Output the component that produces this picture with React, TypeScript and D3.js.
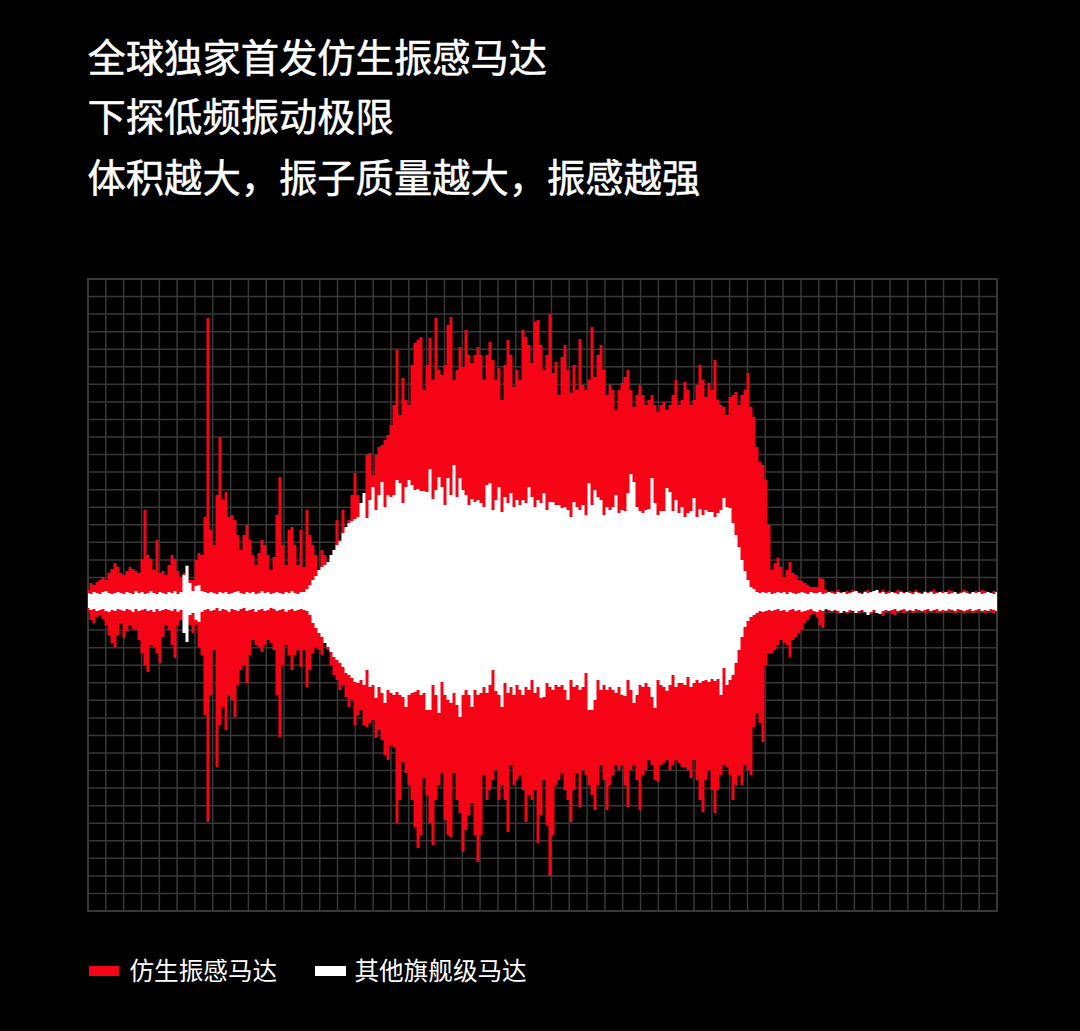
import React from 'react';
import * as d3 from 'd3';

const titleLines = ['全球独家首发仿生振感马达', '下探低频振动极限', '体积越大，振子质量越大，振感越强'];
const legendNames = ['仿生振感马达', '其他旗舰级马达'];

// amplitude, one sample every 3px along the time axis
const redUpper = [
  5,12,10,13,15,18,15,22,26,32,28,22,20,24,28,26,24,22,36,85,
  40,36,25,55,22,24,20,30,40,36,24,18,22,30,15,15,35,42,40,78,
  277,65,50,100,158,95,103,78,80,75,60,45,60,70,55,40,30,42,55,50,
  40,25,38,80,118,50,30,65,68,50,30,65,28,85,60,50,40,25,45,40,
  30,35,45,75,55,85,65,75,100,122,100,92,90,140,142,120,140,148,150,155,
  160,170,190,245,180,217,195,190,230,252,255,258,205,230,257,215,277,225,220,230,
  270,278,215,225,248,228,265,240,232,240,248,240,215,240,253,235,215,227,195,230,
  255,240,208,225,215,265,258,250,232,273,275,250,225,240,281,222,233,200,238,250,
  225,202,230,205,256,210,205,215,268,218,240,250,225,200,210,205,185,205,212,218,
  225,205,188,200,210,200,190,195,200,190,183,190,193,185,190,200,215,190,195,213,
  205,190,195,210,230,215,198,212,205,235,195,190,188,180,198,200,203,190,200,205,
  222,188,178,148,133,130,115,70,25,32,37,28,18,25,33,22,20,15,14,12,
  10,8,8,8,17,16,5,3,4,3,5,3,2,4,3,5,4,3,2,4,
  5,3,2,4,3,5,3,4,2,3,5,4,3,2,4,3,5,3,2,4,
  3,4,5,3,2,4,3,5,4,3,2,3,5,4,2,3,4,3,5,4,
  3,2,4,3,
];

const redLower = [
  16,25,28,22,20,24,30,40,48,52,40,28,43,36,30,34,35,45,58,70,
  77,50,52,58,68,42,30,35,50,63,30,25,25,25,30,38,30,52,60,120,
  227,100,55,172,130,112,135,100,105,122,90,75,70,88,60,45,50,52,57,50,
  45,48,55,100,142,70,50,60,75,60,55,72,55,92,75,58,52,55,60,48,
  55,70,80,85,95,90,102,112,105,130,120,115,130,132,128,125,143,135,145,160,
  165,150,152,228,205,167,178,190,205,232,253,240,183,200,228,250,205,190,178,225,
  240,242,178,205,218,257,235,220,208,240,267,240,180,205,195,185,175,205,190,205,
  237,170,190,185,180,195,227,200,205,195,248,220,185,230,281,240,190,185,178,195,
  205,227,195,178,212,175,180,190,200,215,190,170,185,215,190,180,170,175,170,190,
  212,175,170,185,215,180,175,165,170,185,187,170,168,165,175,170,165,168,172,172,
  175,183,165,185,205,217,185,175,195,218,195,180,170,172,180,205,190,180,190,170,
  175,180,132,118,128,147,70,58,58,55,50,45,48,50,62,45,42,38,35,28,
  25,20,18,22,30,33,15,16,17,16,18,17,16,18,17,16,17,18,16,17,
  18,19,17,16,18,21,17,16,19,20,17,16,18,17,16,18,17,16,17,18,
  16,17,16,18,17,18,16,17,16,18,17,16,18,17,16,18,17,16,17,18,
  16,17,18,16,
];

const whiteUpper = [
  2,1,3,2,1,3,4,2,1,2,3,2,1,3,2,1,4,2,3,1,
  2,4,2,1,3,2,1,3,2,4,1,3,20,29,12,4,9,10,4,3,
  2,3,2,1,3,2,3,1,2,3,4,2,1,3,2,3,1,2,4,2,
  3,1,2,3,2,1,3,2,4,2,1,3,3,6,10,15,19,25,28,30,
  33,40,45,50,54,62,68,72,74,76,78,92,102,77,95,108,85,100,113,88,
  100,98,100,115,112,92,108,115,110,105,106,104,104,103,126,96,105,118,108,90,
  117,100,130,98,117,105,100,90,96,93,95,92,88,110,112,85,95,108,83,98,
  92,102,88,95,90,95,92,108,98,88,95,92,102,85,93,93,90,90,87,88,
  85,78,93,88,85,90,80,112,90,105,98,95,80,88,85,88,100,82,85,84,
  102,121,113,88,84,82,85,86,117,92,80,84,84,107,103,84,95,82,88,78,
  82,84,97,78,86,80,85,83,83,78,82,85,97,88,87,72,60,48,35,24,
  15,8,6,3,2,3,2,3,1,2,3,2,3,1,3,2,1,2,3,2,
  1,3,2,2,3,1,2,3,2,1,3,2,3,1,2,3,4,2,1,3,
  2,3,4,5,2,3,1,2,3,2,1,3,2,3,2,1,3,2,1,3,
  2,3,1,2,3,2,3,1,2,3,1,2,3,2,1,3,2,3,1,2,
  3,2,1,3,
];

const whiteLower = [
  13,15,14,16,15,14,16,17,15,16,14,15,16,14,15,17,14,16,15,14,
  16,15,17,14,16,15,14,15,16,14,17,15,38,47,20,18,25,27,17,15,
  14,16,15,13,16,14,15,17,14,15,16,14,13,16,15,14,17,15,14,16,
  15,13,14,16,15,14,17,15,14,16,15,14,15,16,20,28,33,38,42,48,
  52,57,62,65,68,72,78,80,83,87,88,85,90,75,92,90,103,92,98,108,
  95,98,100,97,100,102,112,100,98,97,95,100,98,115,115,90,100,118,87,100,
  105,108,98,110,122,100,95,100,112,95,100,98,92,98,90,75,96,100,112,88,
  98,92,100,90,95,100,92,95,85,98,92,103,102,88,92,95,90,92,90,95,
  105,85,92,90,95,92,78,115,115,105,85,95,90,95,92,95,98,92,100,101,
  85,95,108,100,90,92,88,92,102,113,85,90,92,96,90,80,92,88,88,90,
  82,92,88,85,88,86,85,87,84,86,84,100,73,90,85,80,68,55,42,32,
  26,22,20,18,16,17,16,15,16,15,14,16,15,17,15,14,16,15,17,16,
  15,14,16,17,15,16,14,15,16,15,16,18,16,17,15,16,18,16,15,17,
  20,17,15,18,19,16,15,16,15,14,16,15,14,16,15,16,14,15,16,15,
  14,16,15,14,16,15,16,14,15,16,14,15,16,15,14,16,15,14,16,15,
  16,14,15,16,
];

const colCount = 51;
const rowCount = 36;
const red = '#f60415';
const gridColor = '#383838';

const left = 88;
const right = 997;
const top = 279;
const bottom = 911;

const App = () => {
  const x = d3.scaleLinear().domain([0, redUpper.length - 1]).range([left, right]);
  const y = d3.scaleLinear().domain([-316, 316]).range([bottom, top]);
  const colX = d3.scaleLinear().domain([0, colCount]).range([left, right]);
  const rowY = d3.scaleLinear().domain([0, rowCount]).range([top, bottom]);

  const band = (upper: number[], lower: number[]) =>
    d3
      .area<number>()
      .x((i) => x(i))
      .y0((i) => y(-lower[i]))
      .y1((i) => y(upper[i]))
      .curve(d3.curveStep)(d3.range(upper.length)) || undefined;

  return (
    <svg
      width={1080}
      height={1031}
      style={{ position: 'absolute', left: 0, top: 0, display: 'block', background: '#000' }}
      fontFamily='"Noto Sans CJK SC", "Noto Sans", sans-serif'
    >
      {titleLines.map((line, i) => (
        <text
          key={line}
          x={87.5}
          y={[72, 131, 192][i]}
          fill="#fff"
          stroke="#fff"
          strokeWidth={0.5}
          fontSize={38.3}
        >
          {line}
        </text>
      ))}

      <g stroke={gridColor} strokeWidth={1.5}>
        {d3.range(1, colCount).map((c) => (
          <line key={c} x1={colX(c)} x2={colX(c)} y1={top} y2={bottom} />
        ))}
        {d3.range(1, rowCount).map((r) => (
          <line key={r} x1={left} x2={right} y1={rowY(r)} y2={rowY(r)} />
        ))}
      </g>
      <rect x={left} y={top} width={right - left} height={bottom - top} fill="none" stroke={gridColor} strokeWidth={2} />

      <path d={band(redUpper, redLower)} fill={red} />
      <path d={band(whiteUpper, whiteLower)} fill="#fff" />

      <rect x={89} y={966} width={30} height={10} fill={red} />
      <text x={129.5} y={980} fill="#fff" fontSize={24.6}>{legendNames[0]}</text>
      <rect x={315} y={966} width={31} height={10} fill="#fff" />
      <text x={354.5} y={980} fill="#fff" fontSize={24.6}>{legendNames[1]}</text>
    </svg>
  );
};

export default App;
